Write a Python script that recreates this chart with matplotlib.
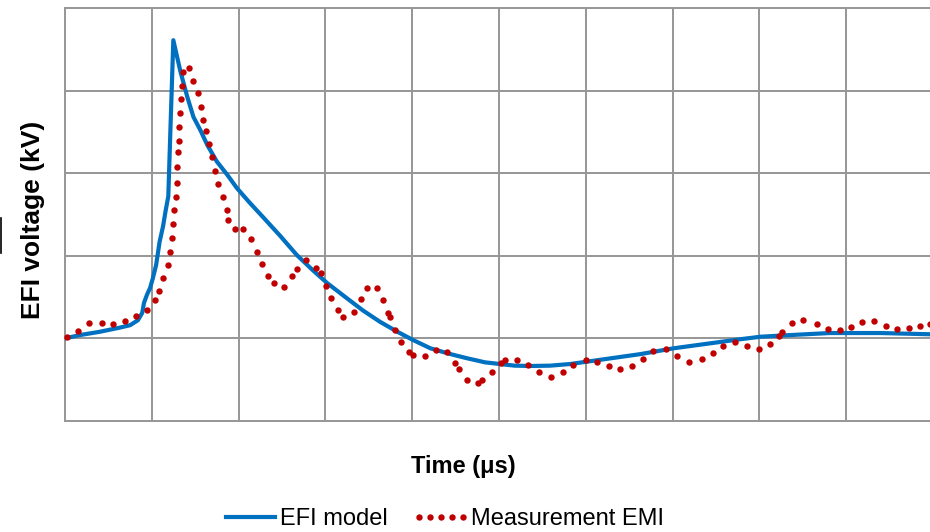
import matplotlib.pyplot as plt
from matplotlib.legend_handler import HandlerLine2D
from matplotlib.lines import Line2D

# EFI model (grid units: 1 division in time, 1 division in voltage)
t_model = [0.00, 0.17, 0.40, 0.63, 0.75, 0.84, 0.89, 0.91, 0.945, 0.98,
           1.01, 1.05, 1.09, 1.13, 1.16, 1.19, 1.22, 1.248, 1.33, 1.41,
           1.48, 1.56, 1.64, 1.75, 1.87, 1.98, 2.13, 2.28, 2.48, 2.67,
           2.85, 3.02, 3.23, 3.43, 3.63, 3.83, 4.01, 4.21, 4.44, 4.63,
           4.84, 5.01, 5.18, 5.36, 5.59, 5.82, 6.16, 6.63, 7.01, 7.43,
           7.78, 8.01, 8.35, 8.81, 9.39, 9.97]
v_model = [1.00, 1.04, 1.08, 1.13, 1.16, 1.22, 1.31, 1.43, 1.53, 1.61,
           1.72, 1.89, 2.17, 2.36, 2.55, 2.72, 3.71, 4.61, 4.23, 3.92,
           3.68, 3.52, 3.34, 3.14, 2.98, 2.82, 2.64, 2.47, 2.24, 2.01,
           1.83, 1.67, 1.50, 1.34, 1.20, 1.08, 0.98, 0.88, 0.81, 0.76,
           0.71, 0.69, 0.67, 0.666, 0.67, 0.69, 0.74, 0.81, 0.88, 0.94,
           0.99, 1.02, 1.04, 1.065, 1.065, 1.05]

# Measurement EMI samples
t_meas = [0.02, 0.15, 0.28, 0.43, 0.55, 0.69, 0.82, 0.95, 1.04, 1.08, 1.13,
          1.19, 1.21, 1.23, 1.244, 1.26, 1.28, 1.29, 1.29, 1.30, 1.31, 1.31,
          1.33, 1.34, 1.35, 1.36, 1.43, 1.48, 1.53, 1.57, 1.59, 1.62, 1.66,
          1.69, 1.73, 1.76, 1.82, 1.87, 1.88, 1.96, 2.05, 2.14, 2.21, 2.27,
          2.34, 2.41, 2.52, 2.62, 2.67, 2.78, 2.89, 2.95, 3.01, 3.07, 3.15,
          3.20, 3.33, 3.41, 3.48, 3.59, 3.66, 3.72, 3.74, 3.80, 3.87, 3.96,
          4.01, 4.15, 4.27, 4.40, 4.49, 4.54, 4.63, 4.76, 4.80, 4.92, 5.02,
          5.07, 5.21, 5.33, 5.46, 5.60, 5.74, 5.85, 6.00, 6.13, 6.27, 6.39,
          6.53, 6.66, 6.77, 6.92, 7.05, 7.19, 7.34, 7.47, 7.58, 7.72, 7.86,
          8.00, 8.12, 8.23, 8.26, 8.38, 8.50, 8.66, 8.79, 8.93, 9.06, 9.18,
          9.32, 9.46, 9.59, 9.72, 9.85, 9.96]
v_meas = [1.02, 1.09, 1.19, 1.19, 1.17, 1.21, 1.27, 1.34, 1.47, 1.57, 1.73,
          1.89, 2.05, 2.22, 2.39, 2.55, 2.71, 2.88, 3.08, 3.26, 3.39, 3.56,
          3.73, 3.90, 4.06, 4.23, 4.27, 4.12, 3.97, 3.80, 3.64, 3.51, 3.35,
          3.20, 3.03, 2.87, 2.71, 2.55, 2.43, 2.32, 2.32, 2.20, 2.05, 1.90,
          1.76, 1.67, 1.62, 1.76, 1.84, 1.95, 1.85, 1.79, 1.63, 1.49, 1.34,
          1.26, 1.32, 1.48, 1.61, 1.61, 1.47, 1.31, 1.26, 1.10, 0.96, 0.84,
          0.80, 0.79, 0.86, 0.84, 0.70, 0.63, 0.50, 0.46, 0.50, 0.59, 0.70,
          0.74, 0.74, 0.68, 0.59, 0.53, 0.59, 0.68, 0.74, 0.71, 0.67, 0.63,
          0.67, 0.75, 0.85, 0.87, 0.79, 0.71, 0.75, 0.82, 0.91, 0.96, 0.91,
          0.87, 0.93, 1.03, 1.08, 1.19, 1.22, 1.17, 1.11, 1.10, 1.14, 1.20,
          1.21, 1.15, 1.11, 1.13, 1.15, 1.17]

plt.rcParams['font.family'] = ['Liberation Sans', 'DejaVu Sans']

fig = plt.figure(figsize=(9.3, 5.32), dpi=100)
ax = fig.add_axes([65 / 930, 111 / 532, 865 / 930, 413 / 532])

grid_color = '#969696'
ax.set_xlim(0, 9.965)
ax.set_ylim(0, 5)
ax.set_xticks(range(1, 10))
ax.set_yticks(range(1, 5))
ax.tick_params(length=0, labelbottom=False, labelleft=False)
ax.grid(True, color=grid_color, linewidth=1.4)
for side in ['left', 'bottom', 'top']:
    ax.spines[side].set_color(grid_color)
    ax.spines[side].set_linewidth(1.4)
ax.spines['right'].set_visible(False)

model_line, = ax.plot(t_model, v_model, color='#0070C0', linewidth=3,
                      solid_joinstyle='round', label='EFI model', zorder=3)
meas_line, = ax.plot(t_meas, v_meas, linestyle='none', marker='o',
                     markersize=4.6, color='#C00000', markeredgewidth=0,
                     label='Measurement EMI', zorder=4, clip_on=False)

fig.text(463 / 930, 1 - 467 / 532, 'Time (μs)', ha='center', va='center',
         fontsize=17, fontweight='bold')
fig.text(33 / 930, 1 - 220 / 532, 'EFI voltage (kV)', ha='center',
         va='center', rotation=90, fontsize=19, fontweight='bold')

fig.legend(handles=[model_line, meas_line], loc='center',
           bbox_to_anchor=(445 / 930, 1 - 519 / 532), ncol=2, frameon=False,
           fontsize=17, handlelength=2.05, handletextpad=0.25,
           columnspacing=1.2, borderpad=0,
           handler_map={meas_line: HandlerLine2D(numpoints=5, marker_pad=0.1)})

# stray mark at the left edge
fig.add_artist(Line2D([0.0006, 0.0006], [1 - 253 / 532, 1 - 218 / 532],
                      color='black', linewidth=1.2))

fig.savefig('out.png', dpi=100)
